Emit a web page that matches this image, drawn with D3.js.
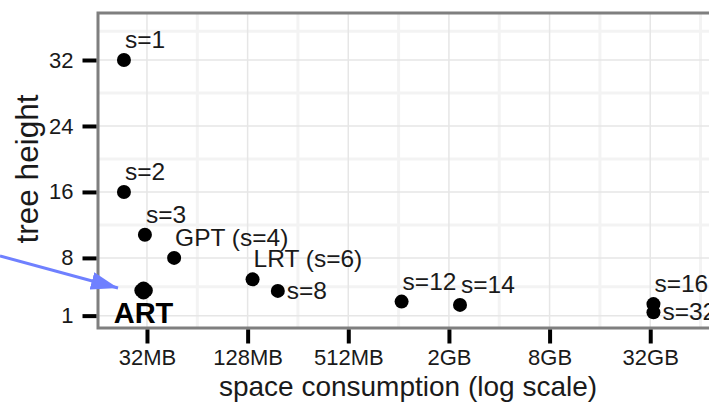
<!DOCTYPE html>
<html><head><meta charset="utf-8">
<script src="https://cdn.jsdelivr.net/npm/d3@7"></script>
<style>
html,body{margin:0;padding:0;background:#fff;overflow:hidden;}
svg{display:block;font-family:"Liberation Sans",Arial,Helvetica,sans-serif;}
</style></head>
<body>
<script>
// ---- data ----
const pointLabels = ["s=1","s=2","s=3","GPT (s=4)","LRT (s=6)","s=8","s=12","s=14","s=16","s=32"];
const spaceMB     = [23.3, 23.3, 31.1, 46.5, 137, 194, 1067, 2385, 34250, 34250];
const treeHeight  = [32, 16, 10.8, 8, 5.4, 4, 2.7, 2.3, 2.4, 1.4];
const labelSide   = ["above","above","above","above","above","right","above","above","above","right"];
const artSpaceMB  = [29.6, 31.5, 30.5, 30.5];
const artHeight   = [4.05, 4.05, 4.3, 3.8];
const xTickMB     = [32, 128, 512, 2048, 8192, 32768];
const xTickLabels = ["32MB","128MB","512MB","2GB","8GB","32GB"];
const yTicks      = [1, 8, 16, 24, 32];
const yMinor      = [4.5, 12, 20, 28, 35.5];
const xMinorMB    = [64, 256, 1024, 4096, 16384, 65536];

(function(){
const W = 709, H = 406;
const svg = d3.select("body").append("svg").attr("width", W).attr("height", H);

const pL = 98, pT = 13, pB = 328, pR = 724;
const x = d3.scaleLog().base(2).domain([16.3, 90500]).range([pL, pR]);
const y = d3.scaleLinear().domain([-0.5, 37.7]).range([pB, pT]);

svg.append("rect").attr("x", pL).attr("y", pT).attr("width", pR-pL).attr("height", pB-pT).attr("fill", "#fff");

const g = svg.append("g");
g.selectAll(".ymin").data(yMinor).enter().append("line")
  .attr("x1", pL).attr("x2", pR).attr("y1", d=>y(d)).attr("y2", d=>y(d))
  .attr("stroke", "#f3f3f3").attr("stroke-width", 3);
g.selectAll(".xmin").data(xMinorMB).enter().append("line")
  .attr("y1", pT).attr("y2", pB).attr("x1", d=>x(d)).attr("x2", d=>x(d))
  .attr("stroke", "#f3f3f3").attr("stroke-width", 3);
g.selectAll(".ymaj").data(yTicks).enter().append("line")
  .attr("x1", pL).attr("x2", pR).attr("y1", d=>y(d)).attr("y2", d=>y(d))
  .attr("stroke", "#e6e6e6").attr("stroke-width", 1.5);
g.selectAll(".xmaj").data(xTickMB).enter().append("line")
  .attr("y1", pT).attr("y2", pB).attr("x1", d=>x(d)).attr("x2", d=>x(d))
  .attr("stroke", "#e6e6e6").attr("stroke-width", 1.5);

const pts = pointLabels.map((l,i)=>({label:l, s:spaceMB[i], h:treeHeight[i], side:labelSide[i]}));
svg.append("g").selectAll("circle").data(pts).enter().append("circle")
  .attr("cx", d=>x(d.s)).attr("cy", d=>y(d.h)).attr("r", 7).attr("fill", "#000");
const art = artSpaceMB.map((s,i)=>({s, h:artHeight[i]}));
svg.append("g").selectAll("circle").data(art).enter().append("circle")
  .attr("cx", d=>x(d.s)).attr("cy", d=>y(d.h)).attr("r", 7).attr("fill", "#000");

svg.append("g").selectAll("text").data(pts).enter().append("text")
  .attr("x", d=> d.side==="right" ? x(d.s)+9 : x(d.s)+1)
  .attr("y", d=> d.side==="right" ? y(d.h)+8 : y(d.h)-12)
  .attr("font-size", 24.5).attr("fill", "#1a1a1a")
  .text(d=>d.label);

svg.append("rect").attr("x", pL).attr("y", pT).attr("width", pR-pL).attr("height", pB-pT)
  .attr("fill", "none").attr("stroke", "#7f7f7f").attr("stroke-width", 3);

const yAx = svg.append("g").attr("transform", `translate(${pL-1.5},0)`)
  .call(d3.axisLeft(y).tickValues(yTicks).tickSize(14).tickPadding(9));
yAx.select(".domain").remove();
yAx.selectAll(".tick line").attr("stroke", "#000").attr("stroke-width", 4);
yAx.selectAll(".tick text").attr("font-size", 22).attr("fill", "#1a1a1a")
  .attr("font-family", "Liberation Sans, Arial, sans-serif");

const xAx = svg.append("g").attr("transform", `translate(0,${pB+1.5})`)
  .call(d3.axisBottom(x).tickValues(xTickMB).tickFormat((d,i)=>xTickLabels[i]).tickSize(14).tickPadding(6));
xAx.select(".domain").remove();
xAx.selectAll(".tick line").attr("stroke", "#000").attr("stroke-width", 4);
xAx.selectAll(".tick text").attr("font-size", 22).attr("fill", "#1a1a1a")
  .attr("font-family", "Liberation Sans, Arial, sans-serif");

svg.append("text").attr("x", 408).attr("y", 396).attr("text-anchor", "middle")
  .attr("font-size", 28).attr("fill", "#1a1a1a").text("space consumption (log scale)");
svg.append("text").attr("transform", "translate(38,169) rotate(-90)").attr("text-anchor", "middle")
  .attr("font-size", 31.5).attr("fill", "#1a1a1a").text("tree height");

svg.append("text").attr("x", x(d3.mean(artSpaceMB))).attr("y", 323).attr("text-anchor", "middle")
  .attr("font-size", 29).attr("font-weight", "bold").attr("fill", "#000").text("ART");

const defs = svg.append("defs");
defs.append("marker").attr("id", "ah").attr("viewBox", "0 0 9 6").attr("refX", 9).attr("refY", 3)
  .attr("markerWidth", 9).attr("markerHeight", 6).attr("markerUnits", "strokeWidth").attr("orient", "auto")
  .append("path").attr("d", "M0,0 L9,3 L0,6 Z").attr("fill", "#6f80ff");
svg.append("line").attr("x1", 0).attr("y1", 256).attr("x2", 118).attr("y2", 288)
  .attr("stroke", "#6f80ff").attr("stroke-width", 3).attr("marker-end", "url(#ah)");
})();
</script>
</body></html>
